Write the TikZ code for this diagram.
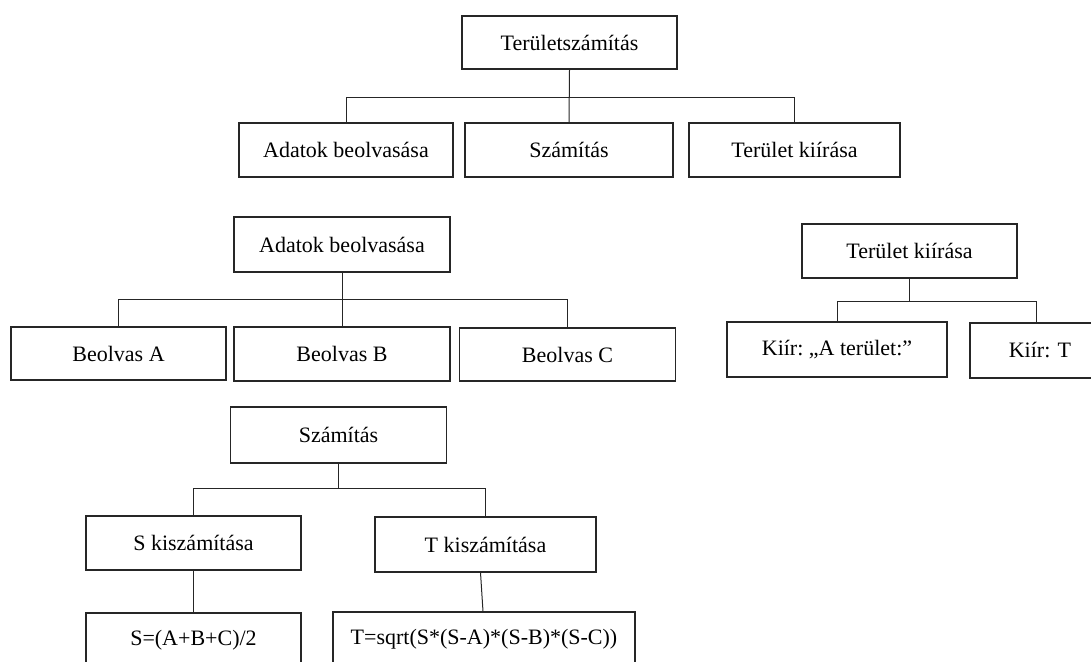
\documentclass[tikz,border=0pt]{standalone}
\usepackage{fontspec}
\setmainfont{Liberation Serif}
\frenchspacing
\begin{document}
\begin{tikzpicture}[x=1pt,y=-1pt,
  box/.style={draw=black!85,line width=1.1pt,rectangle,inner sep=0pt,
    minimum height=54pt,font=\fontsize{22}{24}\selectfont},
  link/.style={draw=black!85,line width=1pt}]
\useasboundingbox (0,0) rectangle (1091,661);
\clip (0,0) rectangle (1091,661);

% main program
\node[box,minimum width=215pt,minimum height=53pt] (root) at (569.5,42.5) {Területszámítás};
\node[box,minimum width=214pt] (a1) at (346,150) {Adatok beolvasása};
\node[box,minimum width=208pt] (a2) at (569,150) {Számítás};
\node[box,minimum width=211pt] (a3) at (794.5,150) {Terület kiírása};
\coordinate (ra) at (0,97);
\draw[link] (a1.north) |- (root.south |- ra) -- (root.south);
\draw[link] (a3.north) |- (root.south |- ra);
\draw[link] (a2.north) -- (root.south);

% reading the data
\node[box,minimum width=216pt,minimum height=55pt] (b) at (342,244.5) {Adatok beolvasása};
\node[box,minimum width=215pt,minimum height=53pt] (b1) at (118.5,353.5) {Beolvas A};
\node[box,minimum width=216pt] (b2) at (342,354) {Beolvas B};
\node[box,minimum width=216pt,minimum height=53pt] (b3) at (567.5,354.5) {Beolvas C};
\coordinate (rb) at (0,299);
\draw[link] (b1.north) |- (b.south |- rb) -- (b.south);
\draw[link] (b3.north) |- (b.south |- rb);
\draw[link] (b2.north) -- (b.south);

% printing the result
\node[box,minimum width=215pt] (c) at (909.5,251) {Terület kiírása};
\node[box,minimum width=220pt,minimum height=55pt] (c1) at (837,349.5) {Kiír: „A terület:”};
\node[box,minimum width=132pt,minimum height=55pt,text width=132pt,align=center] (c2) at (1036,350.5) {\hspace*{8pt}Kiír: T};
\coordinate (rc) at (0,301);
\draw[link] (c1.north) |- (c.south |- rc) -- (c.south);
\draw[link] (c2.north) |- (c.south |- rc);

% computation
\node[box,minimum width=216pt,minimum height=56pt] (d) at (338.5,435) {Számítás};
\node[box,minimum width=215pt] (d1) at (193.5,543) {S kiszámítása};
\node[box,minimum width=221pt,minimum height=55pt] (d2) at (485.5,544.5) {T kiszámítása};
\coordinate (rd) at (0,488);
\draw[link] (d1.north) |- (d.south |- rd) -- (d.south);
\draw[link] (d2.north) |- (d.south |- rd);

\node[box,minimum width=215pt,minimum height=55pt] (e1) at (193.5,640.5) {S=(A+B+C)/2};
\node[box,minimum width=302pt,minimum height=55pt] (e2) at (484,639.5) {T=sqrt(S*(S-A)*(S-B)*(S-C))};
\draw[link] (d1.south) -- (e1.north);
\draw[link] ([xshift=-5pt]d2.south) -- ([xshift=-1pt]e2.north);
\end{tikzpicture}
\end{document}
